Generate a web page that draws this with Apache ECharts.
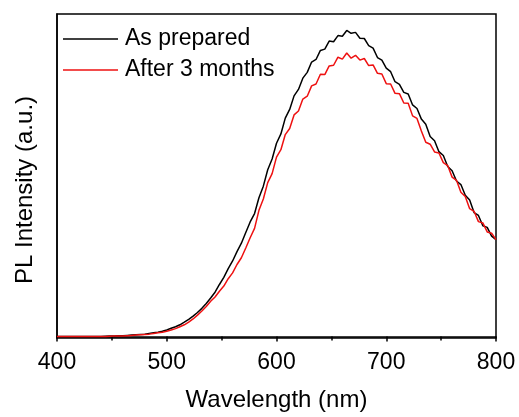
<!DOCTYPE html>
<html>
<head>
<meta charset="utf-8">
<script src="https://cdn.jsdelivr.net/npm/echarts@6/dist/echarts.min.js"></script>
<style>
  html, body { margin: 0; padding: 0; background: #fff; }
  #chart { width: 519px; height: 417px; }
</style>
</head>
<body>
<div id="chart"></div>
<script>
// wavelength grid (nm)
const wavelengths = [
  400, 404, 408, 412, 416, 420, 424, 428, 432, 436, 440, 444, 448, 452, 456, 460, 464, 468, 472, 476,
  480, 484, 488, 492, 496, 500, 504, 508, 512, 516, 520, 524, 528, 532, 536, 540, 544, 548, 552, 556,
  560, 564, 568, 572, 576, 580, 584, 588, 592, 596, 600, 604, 608, 612, 616, 620, 624, 628, 632, 636,
  640, 644, 648, 652, 656, 660, 664, 668, 672, 676, 680, 684, 688, 692, 696, 700, 704, 708, 712, 716,
  720, 724, 728, 732, 736, 740, 744, 748, 752, 756, 760, 764, 768, 772, 776, 780, 784, 788, 792, 796,
  800
];

// As prepared
const asPrepared = [
  0, 0, 0, 0, 0, 0, 0, 0, 0, 0, 0, 0.0005, 0.001, 0.001, 0.002, 0.002, 0.003, 0.004, 0.005, 0.006,
  0.007, 0.009, 0.011, 0.013, 0.016, 0.02, 0.025, 0.03, 0.036, 0.044, 0.053, 0.063, 0.074, 0.087, 0.102, 0.119, 0.137, 0.161, 0.183, 0.210,
  0.234, 0.263, 0.289, 0.322, 0.355, 0.381, 0.430, 0.466, 0.517, 0.550, 0.599, 0.628, 0.677, 0.704, 0.746, 0.766, 0.801, 0.819, 0.851, 0.859,
  0.887, 0.891, 0.916, 0.914, 0.933, 0.931, 0.949, 0.940, 0.943, 0.925, 0.924, 0.902, 0.894, 0.865, 0.857, 0.832, 0.821, 0.790, 0.782, 0.757,
  0.752, 0.718, 0.707, 0.674, 0.658, 0.620, 0.607, 0.573, 0.561, 0.527, 0.514, 0.482, 0.471, 0.438, 0.423, 0.384, 0.375, 0.343, 0.338, 0.311,
  0.300
];

// After 3 months
const after3Months = [
  0, 0, 0, 0, 0, 0, 0, 0, 0, 0, 0, 0, 0.0005, 0.001, 0.001, 0.001, 0.002, 0.003, 0.004, 0.005,
  0.006, 0.007, 0.009, 0.011, 0.013, 0.016, 0.02, 0.024, 0.03, 0.036, 0.044, 0.054, 0.066, 0.079, 0.093, 0.109, 0.122, 0.140, 0.156, 0.179,
  0.197, 0.223, 0.244, 0.274, 0.306, 0.335, 0.391, 0.426, 0.477, 0.505, 0.556, 0.579, 0.626, 0.645, 0.687, 0.699, 0.736, 0.745, 0.777, 0.783,
  0.813, 0.812, 0.839, 0.841, 0.866, 0.860, 0.879, 0.863, 0.872, 0.857, 0.862, 0.840, 0.842, 0.816, 0.814, 0.784, 0.783, 0.754, 0.753, 0.724,
  0.723, 0.684, 0.676, 0.637, 0.602, 0.596, 0.572, 0.569, 0.539, 0.530, 0.494, 0.484, 0.447, 0.434, 0.396, 0.388, 0.356, 0.352, 0.324, 0.320,
  0.300
];

const seriesNames = ["As prepared", "After 3 months"];
const xTicks = [400, 500, 600, 700, 800];

const font = "Liberation Sans, Arial, sans-serif";
const chart = echarts.init(document.getElementById("chart"));

const pairs = (ys) => wavelengths.map((x, i) => [x, ys[i]]);

const option = {
  animation: false,
  grid: {
    left: 57,
    right: 23,
    top: 14,
    bottom: 79,
    show: true,
    borderColor: "#000",
    borderWidth: 1.5,
  },
  legend: {
    orient: "vertical",
    left: 63,
    top: 27,
    padding: 0,
    icon: "rect",
    itemWidth: 55,
    itemHeight: 1.5,
    itemGap: 7,
    textStyle: {
      fontFamily: font,
      fontSize: 23,
      color: "#000",
      lineHeight: 24,
      padding: [0, 0, 0, 2],
    },
    data: seriesNames,
  },
  xAxis: {
    type: "value",
    min: 400,
    max: 800,
    interval: 100,
    name: "Wavelength (nm)",
    nameLocation: "middle",
    nameGap: 50,
    nameTextStyle: { fontFamily: font, fontSize: 24, color: "#000" },
    axisLine: { show: true, lineStyle: { color: "#000", width: 1.5 } },
    axisTick: { show: true, inside: false, length: 5, lineStyle: { color: "#000", width: 1.5 } },
    minorTick: { show: true, splitNumber: 2, length: 4, lineStyle: { color: "#000", width: 1.5 } },
    axisLabel: {
      margin: 13,
      fontFamily: font,
      fontSize: 23,
      color: "#000",
      formatter: (v) => (xTicks.includes(v) ? String(v) : ""),
    },
    splitLine: { show: false },
  },
  yAxis: {
    type: "value",
    min: -0.005,
    max: 1,
    name: "PL Intensity (a.u.)",
    nameLocation: "middle",
    nameGap: 20,
    nameRotate: 90,
    nameTextStyle: { fontFamily: font, fontSize: 24, color: "#000", padding: [0, 28, 0, 0] },
    axisLine: { show: true, lineStyle: { color: "#000", width: 1.5 } },
    axisTick: { show: false },
    axisLabel: { show: false },
    splitLine: { show: false },
  },
  series: [
    {
      name: seriesNames[0],
      type: "line",
      symbol: "none",
      data: pairs(asPrepared),
      lineStyle: { color: "#000", width: 1.5 },
      itemStyle: { color: "#000" },
    },
    {
      name: seriesNames[1],
      type: "line",
      symbol: "none",
      data: pairs(after3Months),
      lineStyle: { color: "#ee1111", width: 1.5 },
      itemStyle: { color: "#ee1111" },
    },
  ],
};

chart.setOption(option);
</script>
</body>
</html>
